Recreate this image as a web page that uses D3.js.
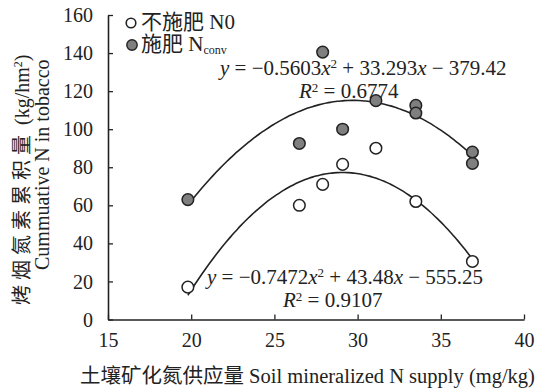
<!DOCTYPE html>
<html><head><meta charset="utf-8">
<script src="https://cdnjs.cloudflare.com/ajax/libs/d3/7.8.5/d3.min.js"></script>
<style>
html,body{margin:0;padding:0;background:#fff;}
text{font-family:"Liberation Serif","Times New Roman","DejaVu Serif","Noto Sans CJK SC",serif;}
</style></head>
<body><svg id="c" width="537" height="388"></svg>
<script>
// Data
const xTicks = [15, 20, 25, 30, 35, 40];
const yTicks = [0, 20, 40, 60, 80, 100, 120, 140, 160];
const n0X = [19.8, 26.5, 27.9, 29.1, 31.1, 33.5, 36.9];
const n0Y = [17, 60, 71, 81.5, 90, 62, 30.5];
const nconvX = [19.8, 26.5, 27.9, 29.1, 31.1, 33.5, 33.5, 36.9, 36.9];
const nconvY = [63, 92.5, 140.5, 100, 115, 112.5, 108.5, 88, 82];
// Printed trend-line equations (a x^2 + b x + c) and fitted range
const n0Coef = [-0.7472, 43.48, -555.25];
const nconvCoef = [-0.5603, 33.293, -379.42];
const fitRange = [19.8, 36.9];

const FONT = "'Liberation Serif','Times New Roman','Noto Sans CJK SC',serif";
const svg = d3.select("#c");
const x = d3.scaleLinear().domain([15, 40]).range([108, 524]);
const y = d3.scaleLinear().domain([0, 160]).range([319.5, 15]);

// axes
const xAx = svg.append("g").attr("transform", `translate(0,${y(0)})`)
  .call(d3.axisBottom(x).tickValues(xTicks).tickSizeInner(-5).tickSizeOuter(0).tickPadding(9));
const yAx = svg.append("g").attr("transform", `translate(${x(15)},0)`)
  .call(d3.axisLeft(y).tickValues(yTicks).tickSizeInner(-5).tickSizeOuter(0).tickPadding(15));
[xAx, yAx].forEach(g => {
  g.attr("font-family", null).attr("font-size", null);
  g.select(".domain").attr("stroke", "#222").attr("stroke-width", 1.6);
  g.selectAll(".tick line").attr("stroke", "#222").attr("stroke-width", 1.3);
  g.selectAll(".tick text").attr("fill", "#222").style("font-size", "20px")
    .style("font-family", FONT);
});
xAx.selectAll(".tick text").attr("dy", "0.9em");
yAx.selectAll(".tick text").attr("dy", "0.33em");

// trend curves
const line = d3.line().x(d => x(d[0])).y(d => y(d[1])).curve(d3.curveBasis);
function curvePts(c) {
  const pts = [];
  const n = 80;
  for (let i = 0; i <= n; i++) {
    const xv = fitRange[0] + (fitRange[1] - fitRange[0]) * i / n;
    pts.push([xv, c[0] * xv * xv + c[1] * xv + c[2]]);
  }
  return pts;
}
[n0Coef, nconvCoef].forEach(c => {
  svg.append("path").attr("d", line(curvePts(c))).attr("fill", "none")
    .attr("stroke", "#222").attr("stroke-width", 1.6);
});

// points
svg.append("g").selectAll("circle").data(nconvX.map((v, i) => [v, nconvY[i]])).join("circle")
  .attr("cx", d => x(d[0])).attr("cy", d => y(d[1])).attr("r", 5.8)
  .attr("fill", "#7f7f7f").attr("stroke", "#222").attr("stroke-width", 1.5);
svg.append("g").selectAll("circle").data(n0X.map((v, i) => [v, n0Y[i]])).join("circle")
  .attr("cx", d => x(d[0])).attr("cy", d => y(d[1])).attr("r", 5.8)
  .attr("fill", "#fff").attr("stroke", "#222").attr("stroke-width", 1.5);

function txt(xp, yp, fs) {
  return svg.append("text").attr("x", xp).attr("y", yp).attr("fill", "#222")
    .style("font-size", (fs || 21) + "px").style("font-family", FONT);
}

// legend
svg.append("circle").attr("cx", 131).attr("cy", 23).attr("r", 4.8).attr("fill", "#fff").attr("stroke", "#222").attr("stroke-width", 1.6);
svg.append("circle").attr("cx", 132).attr("cy", 45).attr("r", 5.2).attr("fill", "#7f7f7f").attr("stroke", "#222").attr("stroke-width", 1.4);
txt(141, 29, 21).text("不施肥 N0");
const lg2 = txt(141, 51, 21);
lg2.append("tspan").text("施肥 N");
lg2.append("tspan").attr("dy", 3).style("font-size", "12px").text("conv");

// equations
function eq(xp, yp, a, b, c) {
  const t = txt(xp, yp, 21);
  t.append("tspan").style("font-style", "italic").text("y");
  t.append("tspan").text(" = −" + a);
  t.append("tspan").style("font-style", "italic").text("x");
  t.append("tspan").attr("dy", -7).style("font-size", "13px").text("2");
  t.append("tspan").attr("dy", 7).text(" + " + b);
  t.append("tspan").style("font-style", "italic").text("x");
  t.append("tspan").text(" − " + c);
}
function r2(xp, yp, v) {
  const t = txt(xp, yp, 21);
  t.append("tspan").style("font-style", "italic").text("R");
  t.append("tspan").attr("dy", -6).style("font-size", "13px").text("2");
  t.append("tspan").attr("dy", 6).text(" = " + v);
}
eq(220, 75, "0.5603", "33.293", "379.42");
r2(299, 98, "0.6774");
eq(207, 284, "0.7472", "43.48", "555.25");
r2(283, 307, "0.9107");

// axis titles
txt(80, 383, 20.5).text("土壤矿化氮供应量 Soil mineralized N supply (mg/kg)");
const yt1 = txt(0, 0, 20).attr("x", null).attr("y", null).attr("transform", "translate(29,305) rotate(-90)");
yt1.append("tspan").style("letter-spacing", "5px").text("烤烟氮素累积量");
yt1.append("tspan").text(" (kg/hm");
yt1.append("tspan").attr("dy", -7).style("font-size", "12px").text("2");
yt1.append("tspan").attr("dy", 7).text(")");
txt(0, 0, 20).attr("x", null).attr("y", null).attr("transform", "translate(49,270) rotate(-90)")
  .text("Cummuative N in tobacco");
</script></body></html>
